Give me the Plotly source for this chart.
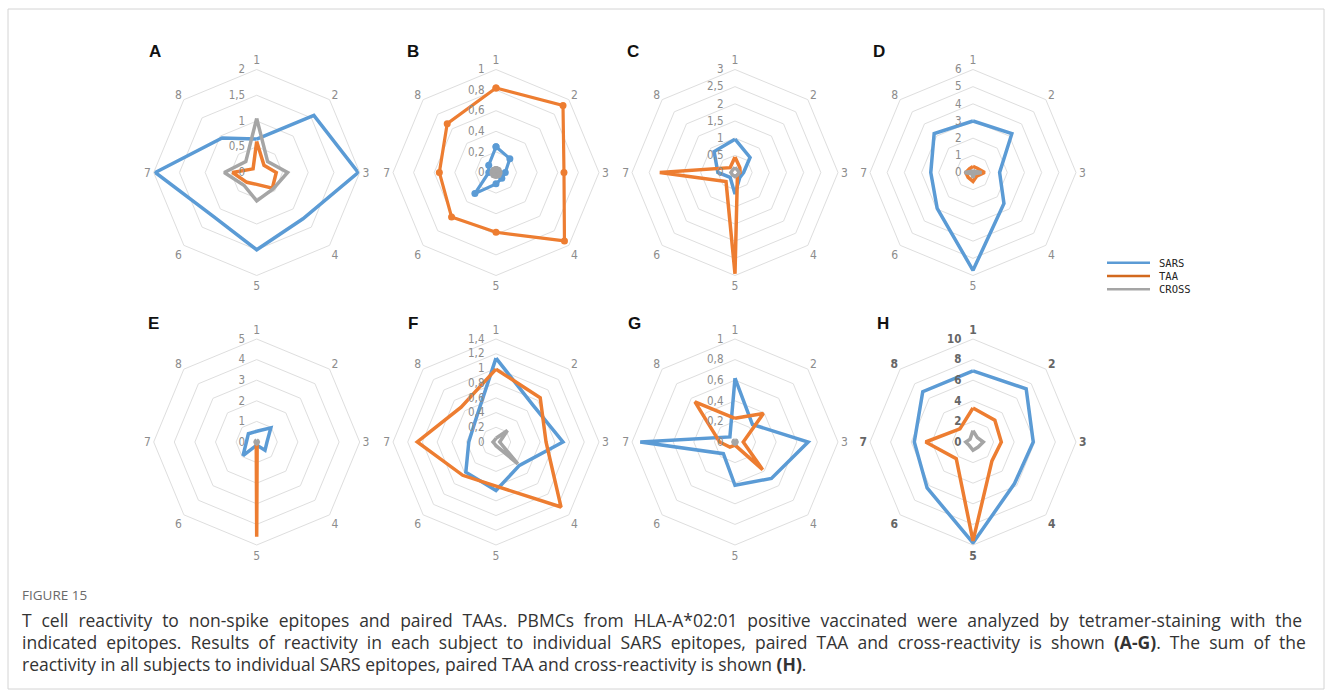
import plotly.graph_objects as go

# Epitope axes (clockwise from the top)
EPITOPES = ["1", "2", "3", "4", "5", "6", "7", "8"]

# Panel A
SARS_A = [0.65, 1.57, 1.97, 1.27, 1.5, 1.2, 1.97, 0.95]
TAA_A = [0.6, 0.2, 0.38, 0.43, 0.23, 0.27, 0.47, 0.1]
CROSS_A = [1.05, 0.3, 0.6, 0.45, 0.55, 0.35, 0.63, 0.3]
TICKS_A = [0, 0.5, 1, 1.5, 2]

# Panel B
SARS_B = [0.25, 0.19, 0.09, 0.08, 0.11, 0.29, 0.07, 0.1]
TAA_B = [0.82, 0.92, 0.66, 0.94, 0.58, 0.61, 0.55, 0.67]
CROSS_B = [0.03, 0.03, 0.03, 0.03, 0.03, 0.03, 0.03, 0.03]
TICKS_B = [0, 0.2, 0.4, 0.6, 0.8, 1]

# Panel C
SARS_C = [0.97, 0.62, 0.25, 0.2, 0.63, 0.2, 0.5, 0.86]
TAA_C = [0.45, 0.2, 0.15, 0.1, 2.95, 0.37, 2.19, 0.2]
CROSS_C = [0.15, 0.1, 0.12, 0.1, 0.12, 0.1, 0.12, 0.1]
TICKS_C = [0, 0.5, 1, 1.5, 2, 2.5, 3]

# Panel D
SARS_D = [3.0, 3.2, 1.55, 2.55, 5.7, 2.95, 2.46, 3.2]
TAA_D = [0.35, 0.35, 0.68, 0.3, 0.52, 0.4, 0.42, 0.3]
CROSS_D = [0.15, 0.1, 0.5, 0.1, 0.3, 0.1, 0.5, 0.1]
TICKS_D = [0, 1, 2, 3, 4, 5, 6]

# Panel E
SARS_E = [0.52, 0.97, 0.5, 0.57, 0.15, 0.94, 0.5, 0.57]
TAA_E = [0.05, 0.03, 0.03, 0.03, 4.6, 0.03, 0.03, 0.03]
CROSS_E = [0.1, 0.08, 0.08, 0.08, 0.1, 0.08, 0.08, 0.08]
TICKS_E = [0, 1, 2, 3, 4, 5]

# Panel F
SARS_F = [1.14, 0.71, 0.91, 0.45, 0.66, 0.58, 0.37, 0.4]
TAA_F = [0.99, 0.85, 0.68, 1.25, 0.6, 0.64, 1.07, 0.67]
CROSS_F = [0.05, 0.22, 0.05, 0.42, 0.05, 0.03, 0.04, 0.03]
TICKS_F = [0, 0.2, 0.4, 0.6, 0.8, 1, 1.2, 1.4]

# Panel G
SARS_G = [0.62, 0.24, 0.71, 0.5, 0.42, 0.16, 0.92, 0.07]
TAA_G = [0.23, 0.39, 0.08, 0.38, 0.03, 0.07, 0.15, 0.55]
CROSS_G = [0.02, 0.02, 0.02, 0.02, 0.02, 0.02, 0.02, 0.02]
TICKS_G = [0, 0.2, 0.4, 0.6, 0.8, 1]

# Panel H (sum over all subjects)
SARS_H = [6.9, 7.3, 5.85, 5.7, 9.8, 6.3, 5.7, 6.9]
TAA_H = [3.3, 3.0, 2.75, 2.6, 9.6, 2.3, 4.6, 1.8]
CROSS_H = [1.1, 0.6, 1.0, 0.7, 0.8, 0.5, 0.7, 0.4]
TICKS_H = [0, 2, 4, 6, 8, 10]

PANELS = ["A", "B", "C", "D", "E", "F", "G", "H"]
SARS = [SARS_A, SARS_B, SARS_C, SARS_D, SARS_E, SARS_F, SARS_G, SARS_H]
TAA = [TAA_A, TAA_B, TAA_C, TAA_D, TAA_E, TAA_F, TAA_G, TAA_H]
CROSS = [CROSS_A, CROSS_B, CROSS_C, CROSS_D, CROSS_E, CROSS_F, CROSS_G, CROSS_H]
TICKS = [TICKS_A, TICKS_B, TICKS_C, TICKS_D, TICKS_E, TICKS_F, TICKS_G, TICKS_H]

SERIES_NAMES = ["SARS", "TAA", "CROSS"]
COLORS = ["#5B9BD5", "#ED7D31", "#A5A5A5"]

W, H = 1332, 696
R = 103
CX = [256.7, 496, 735, 973]
CY = [172.5, 442]

AXIS_FONT = "Liberation Sans Narrow, DejaVu Sans Condensed, Arial Narrow, sans-serif"

fig = go.Figure()
layout_polars = {}
annotations = []

for i, label in enumerate(PANELS):
    cx = CX[i % 4]
    cy = CY[i // 4]
    name = "polar" if i == 0 else f"polar{i + 1}"
    with_markers = label == "B"
    for s, values in enumerate([SARS[i], TAA[i], CROSS[i]]):
        fig.add_trace(go.Scatterpolar(
            r=values + values[:1],
            theta=EPITOPES + EPITOPES[:1],
            mode="lines+markers" if with_markers else "lines",
            line=dict(color=COLORS[s], width=3.2 if with_markers else 3.5),
            marker=dict(size=7, color=COLORS[s]),
            name=SERIES_NAMES[s],
            showlegend=False,
            subplot=name,
        ))
    summary = label == "H"
    tick_color = "#666666" if summary else "#8c8c8c"
    weight = "bold" if summary else "normal"
    layout_polars[name] = dict(
        domain=dict(x=[(cx - R) / W, (cx + R) / W],
                    y=[1 - (cy + R) / H, 1 - (cy - R) / H]),
        bgcolor="rgba(0,0,0,0)",
        gridshape="linear",
        radialaxis=dict(
            range=[0, TICKS[i][-1]],
            tickvals=TICKS[i],
            angle=90,
            side="counterclockwise",
            tickangle=90,
            showline=False,
            # invisible ticks hold the labels a few pixels left of the axis
            ticks="outside",
            ticklen=7,
            tickcolor="rgba(0,0,0,0)",
            gridcolor="#DEDEDE",
            gridwidth=1,
            tickfont=dict(family=AXIS_FONT, size=11.5, color=tick_color, weight=weight),
        ),
        angularaxis=dict(
            categoryorder="array",
            categoryarray=EPITOPES,
            rotation=90,
            direction="clockwise",
            showgrid=False,
            showline=True,
            linecolor="#DEDEDE",
            linewidth=1,
            ticks="",
            tickfont=dict(family=AXIS_FONT, size=12, color=tick_color, weight=weight),
        ),
    )

# Panel letters
LETTER_POS = [(155, 52), (413, 52), (633, 52), (879, 52),
              (153, 323), (413, 323), (634, 323), (883, 323)]
for label, (lx, ly) in zip(PANELS, LETTER_POS):
    annotations.append(dict(
        text=f"<b>{label}</b>", x=lx / W, y=1 - ly / H, xref="paper", yref="paper",
        showarrow=False, xanchor="center", yanchor="middle",
        font=dict(family="Liberation Sans, Arial, sans-serif", size=17, color="#111111"),
    ))

# Series key
shapes = []
KEY_Y = [262.7, 276, 289.3]
for s, ky in enumerate(KEY_Y):
    shapes.append(dict(type="line", xref="paper", yref="paper",
                       x0=1107 / W, x1=1150 / W, y0=1 - ky / H, y1=1 - ky / H,
                       line=dict(color=COLORS[s] if s != 1 else "#D2691E", width=2.5)))
    annotations.append(dict(
        text=SERIES_NAMES[s], x=1157 / W, y=1 - ky / H, xref="paper", yref="paper",
        showarrow=False, xanchor="left", yanchor="middle",
        font=dict(family="DejaVu Sans Mono, monospace", size=10.5, color="#222222"),
    ))

# Outer frame
shapes.append(dict(type="rect", xref="paper", yref="paper",
                   x0=8 / W, x1=1324 / W, y0=1 - 689 / H, y1=1 - 9 / H,
                   line=dict(color="#D4D4D4", width=1)))

# Caption
CAPTION_FONT = "Open Sans, Noto Sans, sans-serif"
annotations.append(dict(
    text="FIGURE 15", x=20 / W, y=1 - 595 / H, xref="paper", yref="paper",
    showarrow=False, xanchor="left", yanchor="middle",
    font=dict(family=CAPTION_FONT, size=13.5, color="#6a6a6a"),
))


def justified(segment, spacing):
    return f'<span style="word-spacing:{spacing}px">{segment}</span>'


CAPTION_LINES = [
    justified("T cell reactivity to non-spike epitopes and paired TAAs. PBMCs from HLA-A*02:01 positive vaccinated were analyzed by tetramer-staining with the", 5.3),
    justified("indicated epitopes. Results of reactivity in each subject to individual SARS epitopes, paired TAA and cross-reactivity is shown ", 4.55)
    + "<b>(A-G)</b>" + justified(". The sum of the", 4.55),
    "reactivity in all subjects to individual SARS epitopes, paired TAA and cross-reactivity is shown <b>(H)</b>.",
]
for k, line in enumerate(CAPTION_LINES):
    annotations.append(dict(
        text=line, x=20 / W, y=1 - (620 + 22 * k) / H, xref="paper", yref="paper",
        showarrow=False, xanchor="left", yanchor="middle",
        font=dict(family=CAPTION_FONT, size=17.5, color="#333333"),
    ))

fig.update_layout(
    width=W, height=H,
    margin=dict(l=0, r=0, t=0, b=0),
    paper_bgcolor="white",
    plot_bgcolor="white",
    separators=", ",
    showlegend=False,
    annotations=annotations,
    shapes=shapes,
    **layout_polars,
)

fig.write_html("out.html")
